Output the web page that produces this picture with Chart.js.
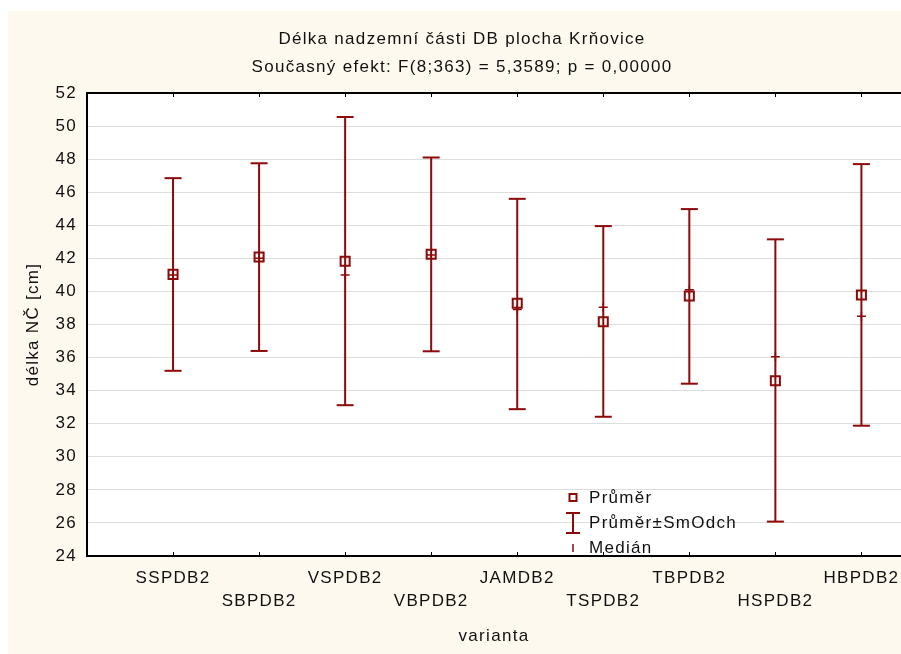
<!DOCTYPE html>
<html>
<head>
<meta charset="utf-8">
<script src="https://cdn.jsdelivr.net/npm/chart.js@4/dist/chart.umd.min.js"></script>
<style>
  html, body { margin: 0; padding: 0; background: #ffffff; }
  #wrap { position: relative; width: 901px; height: 654px; }
</style>
</head>
<body>
<div id="wrap"><canvas id="c"></canvas></div>
<script>
// Groups (varianta) and their summary statistics, délka NČ [cm]
const categories = ['SSPDB2', 'SBPDB2', 'VSPDB2', 'VBPDB2', 'JAMDB2', 'TSPDB2', 'TBPDB2', 'HSPDB2', 'HBPDB2'];
const means   = [41.03, 42.08, 41.83, 42.25, 39.28, 38.17, 39.72, 34.60, 39.78];
const sdUpper = [46.85, 47.75, 50.55, 48.10, 45.60, 43.95, 44.98, 43.15, 47.70];
const sdLower = [35.20, 36.40, 33.12, 36.38, 32.88, 32.42, 34.42, 26.08, 31.88];
const medians = [41.00, 42.00, 41.00, 42.20, 38.90, 39.05, 40.10, 36.05, 38.50];
const yTicks  = [24, 26, 28, 30, 32, 34, 36, 38, 40, 42, 44, 46, 48, 50, 52];

const titleLines = ['Délka nadzemní části DB plocha Krňovice',
                    'Současný efekt: F(8;363) = 5,3589; p = 0,00000'];
const legendLabels = ['Průměr', 'Průměr±SmOdch', 'Medián'];

const RED = '#8c0a0a';
const FONT = '"Liberation Sans", Arial, sans-serif';
const SPACING = '1.3px';

// category i sits at x = i + 1
const xs = categories.map((_, i) => i + 1);

// whiskers: one polyline broken by null gaps
const whiskerData = [];
xs.forEach((x, i) => {
  whiskerData.push({ x, y: sdLower[i] }, { x, y: sdUpper[i] }, { x, y: null });
});
const capData = [];
xs.forEach((x, i) => { capData.push({ x, y: sdLower[i] }, { x, y: sdUpper[i] }); });

const pagePlugin = {
  id: 'page',
  beforeDraw(chart) {
    const { ctx, chartArea: a } = chart;
    ctx.letterSpacing = SPACING;
    ctx.save();
    ctx.fillStyle = '#ffffff';
    ctx.fillRect(0, 0, chart.width, chart.height);
    ctx.fillStyle = '#fdf9ef';
    ctx.fillRect(8, 11, chart.width - 8, chart.height - 11);
    ctx.fillStyle = '#ffffff';
    ctx.fillRect(a.left, a.top, a.right - a.left, a.bottom - a.top);
    // titles
    ctx.fillStyle = '#111111';
    ctx.font = '17px ' + FONT;
    ctx.textAlign = 'center';
    ctx.textBaseline = 'middle';
    ctx.fillText(titleLines[0], 462, 39);
    ctx.fillText(titleLines[1], 462, 67);
    ctx.restore();
  },
  afterDraw(chart) {
    const { ctx, chartArea: a, scales } = chart;
    ctx.save();
    // frame: left, top, bottom
    ctx.strokeStyle = '#000000';
    ctx.lineWidth = 2;
    ctx.beginPath();
    ctx.moveTo(a.right, a.top); ctx.lineTo(a.left, a.top);
    ctx.lineTo(a.left, a.bottom); ctx.lineTo(a.right, a.bottom);
    ctx.stroke();
    // inner tick marks at each group on top and bottom edges
    ctx.lineWidth = 1;
    ctx.beginPath();
    xs.forEach(v => {
      const px = Math.round(scales.x.getPixelForValue(v)) + 0.5;
      ctx.moveTo(px, a.top); ctx.lineTo(px, a.top + 4);
      ctx.moveTo(px, a.bottom); ctx.lineTo(px, a.bottom - 4);
    });
    ctx.stroke();

    // legend
    const lx = 573;
    const rows = [498, 523, 548];
    ctx.strokeStyle = RED;
    ctx.lineWidth = 2;
    ctx.strokeRect(lx - 3.5, rows[0] - 4, 7, 7);
    ctx.beginPath();
    ctx.moveTo(lx, rows[1] - 10); ctx.lineTo(lx, rows[1] + 10);
    ctx.moveTo(lx - 7, rows[1] - 10); ctx.lineTo(lx + 7, rows[1] - 10);
    ctx.moveTo(lx - 7, rows[1] + 10); ctx.lineTo(lx + 7, rows[1] + 10);
    ctx.stroke();
    ctx.lineWidth = 1.5;
    ctx.beginPath();
    ctx.moveTo(lx, rows[2] - 4); ctx.lineTo(lx, rows[2] + 4);
    ctx.stroke();
    ctx.fillStyle = '#111111';
    ctx.font = '17px ' + FONT;
    ctx.textAlign = 'left';
    ctx.textBaseline = 'middle';
    legendLabels.forEach((t, i) => ctx.fillText(t, 589, rows[i]));
    ctx.restore();
  }
};

new Chart(document.getElementById('c'), {
  type: 'line',
  data: {
    datasets: [
      {
        label: legendLabels[0],
        data: xs.map((x, i) => ({ x, y: means[i] })),
        showLine: false,
        pointStyle: 'rect',
        pointRadius: 6.4,
        pointHoverRadius: 6.4,
        pointBorderWidth: 2,
        pointBorderColor: RED,
        pointBackgroundColor: 'rgba(0,0,0,0)'
      },
      {
        label: legendLabels[2],
        data: xs.map((x, i) => ({ x, y: medians[i] })),
        showLine: false,
        pointStyle: 'cross',
        pointRadius: 4.5,
        pointHoverRadius: 4.5,
        pointBorderWidth: 1.5,
        pointBorderColor: RED
      },
      {
        label: 'caps',
        data: capData,
        showLine: false,
        pointStyle: 'line',
        pointRadius: 8.5,
        pointHoverRadius: 8.5,
        pointBorderWidth: 2,
        pointBorderColor: RED
      },
      {
        label: legendLabels[1],
        data: whiskerData,
        borderColor: RED,
        borderWidth: 2,
        pointRadius: 0,
        spanGaps: false,
        tension: 0
      }
    ]
  },
  options: {
    responsive: true,
    maintainAspectRatio: false,
    animation: false,
    events: [],
    layout: { autoPadding: false, padding: { left: 0, right: 0, top: 93, bottom: 0 } },
    plugins: { legend: { display: false }, tooltip: { enabled: false }, title: { display: false } },
    scales: {
      x: {
        type: 'linear',
        min: 0,
        max: 9.46,
        afterBuildTicks: s => { s.ticks = xs.map(v => ({ value: v })); },
        afterFit: s => { s.height = 98; s.paddingLeft = 0; s.paddingRight = 0; },
        grid: { display: false, drawTicks: false },
        border: { display: false },
        ticks: {
          autoSkip: false,
          maxRotation: 0,
          minRotation: 0,
          padding: 10.5,
          color: '#111111',
          font: { family: FONT, size: 17, lineHeight: 23 / 17 },
          callback: (v) => {
            const i = Math.round(v) - 1;
            if (i < 0 || i >= categories.length) return '';
            return i % 2 === 0 ? [categories[i]] : ['', categories[i]];
          }
        },
        title: {
          display: true,
          text: 'varianta',
          color: '#111111',
          font: { family: FONT, size: 17 },
          padding: { top: 0, bottom: 7.8 }
        }
      },
      y: {
        min: 24,
        max: 52,
        afterBuildTicks: s => { s.ticks = yTicks.map(v => ({ value: v })); },
        afterFit: s => { s.width = 87; s.paddingTop = 0; s.paddingBottom = 0; },
        grid: { color: '#dddddd', lineWidth: 1, drawTicks: false },
        border: { display: false },
        ticks: {
          padding: 10,
          color: '#111111',
          font: { family: FONT, size: 17 }
        },
        title: {
          display: true,
          text: 'délka NČ [cm]',
          color: '#111111',
          font: { family: FONT, size: 17 },
          padding: { top: 22.8, bottom: 0 }
        }
      }
    }
  },
  plugins: [pagePlugin]
});
</script>
</body>
</html>
